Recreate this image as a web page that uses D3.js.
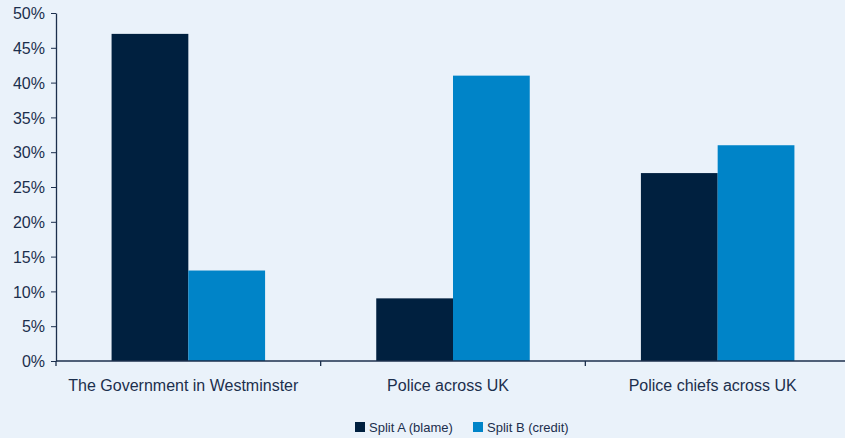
<!DOCTYPE html>
<html>
<head>
<meta charset="utf-8">
<script src="https://cdn.jsdelivr.net/npm/d3@7"></script>
<style>
  html, body { margin: 0; padding: 0; background: #eaf2fa; }
  svg { display: block; }
  text { font-family: "Liberation Sans", Arial, Helvetica, sans-serif; fill: #1c2f4d; }
</style>
</head>
<body>
<svg id="chart" width="845" height="438"></svg>
<script>
const categories = ["The Government in Westminster", "Police across UK", "Police chiefs across UK"];
const seriesNames = ["Split A (blame)", "Split B (credit)"];
const splitA = [47, 9, 27];
const splitB = [13, 41, 31];
const yTicks = [0, 5, 10, 15, 20, 25, 30, 35, 40, 45, 50];
const colors = ["#00203f", "#0084c8"];

const W = 845, H = 438;
const margin = { left: 56, right: -5, top: 13, bottom: 77 };
const svg = d3.select("#chart");

const x0 = d3.scaleBand().domain(categories).range([margin.left, W - margin.right]).padding(0);
const bw = x0.bandwidth();
const x1 = d3.scaleBand().domain(seriesNames).range([bw * 0.21, bw * 0.79]).padding(0);
const y = d3.scaleLinear().domain([0, 50]).range([H - margin.bottom, margin.top]);

const rows = categories.map((c, i) => ({ cat: c, vals: [splitA[i], splitB[i]] }));

// bars
const g = svg.append("g");
rows.forEach(r => {
  r.vals.forEach((v, j) => {
    g.append("rect")
      .attr("x", x0(r.cat) + x1(seriesNames[j]))
      .attr("width", x1.bandwidth())
      .attr("y", y(v))
      .attr("height", y(0) - y(v))
      .attr("fill", colors[j]);
  });
});

// y axis
const yAxis = svg.append("g")
  .attr("transform", `translate(${margin.left},0)`)
  .call(d3.axisLeft(y).tickValues(yTicks).tickFormat(d => d + "%").tickSize(5).tickSizeOuter(0));
yAxis.select(".domain").attr("stroke", "#1c2f4d").attr("stroke-width", 1.3);
yAxis.selectAll(".tick line").attr("stroke", "#1c2f4d");
yAxis.selectAll(".tick text").attr("x", -11).attr("dy", "0.35em")
  .style("font-size", "16px");

// x axis: category boundary ticks
const xAxis = svg.append("g").attr("transform", `translate(0,${y(0)})`);
xAxis.append("line").attr("x1", margin.left).attr("x2", W).attr("y1", 0).attr("y2", 0)
  .attr("stroke", "#1c2f4d").attr("stroke-width", 1.6);
categories.forEach(c => {
  xAxis.append("line").attr("x1", x0(c)).attr("x2", x0(c)).attr("y1", 0).attr("y2", 5)
    .attr("stroke", "#1c2f4d").attr("stroke-width", 1.3);
  xAxis.append("text")
    .attr("x", x0(c) + bw / 2 - 5).attr("y", 30)
    .attr("text-anchor", "middle")
    .style("font-size", "16px")
    .text(c);
});

// legend
const legend = svg.append("g").attr("transform", "translate(355,422)");
const legendX = [0, 118];
seriesNames.forEach((s, j) => {
  const lg = legend.append("g").attr("transform", `translate(${legendX[j]},0)`);
  lg.append("rect").attr("width", 10).attr("height", 10).attr("fill", colors[j]);
  lg.append("text").attr("x", 14).attr("y", 10).style("font-size", "13px").text(s);
});
</script>
</body>
</html>
